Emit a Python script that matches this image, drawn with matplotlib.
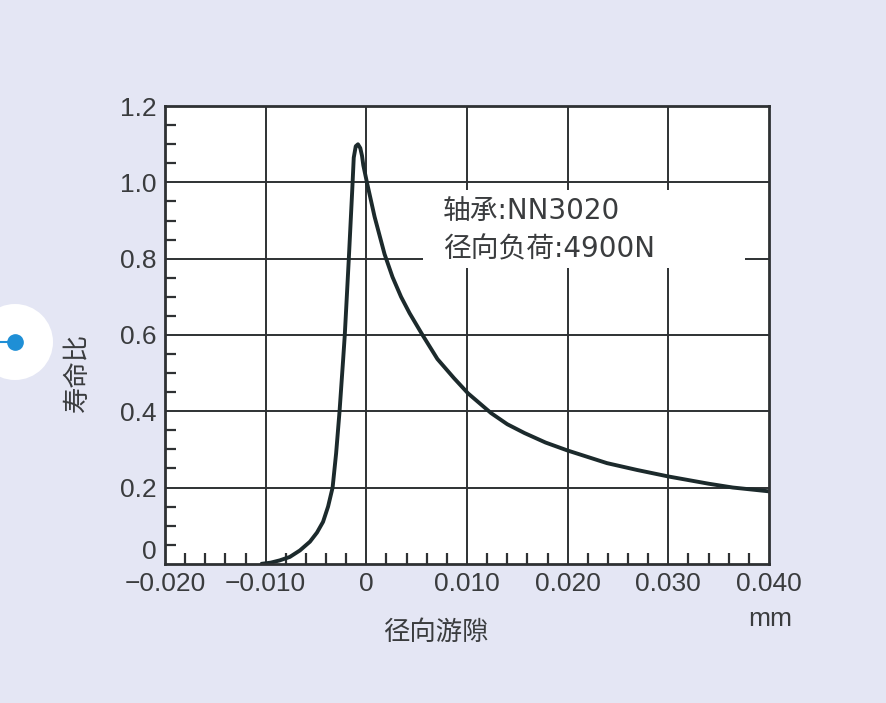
"""
plot.py — bearing life ratio vs radial clearance (NN3020, 4900 N radial load)
"""

import matplotlib
matplotlib.use('Agg')
import matplotlib.pyplot as plt
from matplotlib.patches import Rectangle, Ellipse
from matplotlib.ticker import MultipleLocator

# radial clearance (mm) and life ratio
clearance = [-0.0104, -0.0095, -0.0086, -0.0076, -0.0066, -0.0056, -0.0049,
             -0.0043, -0.0038, -0.00335, -0.0030, -0.00266, -0.0023,
             -0.00214, -0.00174, -0.00140, -0.00125, -0.00105, -0.00083,
             -0.00060, -0.00043, -0.00030, 0.00006, 0.00082, 0.00181,
             0.0026, 0.00345, 0.0043, 0.00558, 0.00706, 0.0087, 0.0101,
             0.0124, 0.0140, 0.0157, 0.0178, 0.0200, 0.0239, 0.0269,
             0.0300, 0.0340, 0.0364, 0.0400]
life_ratio = [0.0, 0.003, 0.009, 0.018, 0.035, 0.058, 0.082, 0.11, 0.15,
              0.20, 0.29, 0.40, 0.537, 0.60, 0.80, 0.98, 1.065, 1.095,
              1.10, 1.09, 1.07, 1.045, 1.00, 0.91, 0.812, 0.752, 0.70,
              0.657, 0.60, 0.537, 0.487, 0.447, 0.395, 0.366, 0.343, 0.318,
              0.297, 0.264, 0.246, 0.229, 0.210, 0.200, 0.190]

x_ticks = [-0.020, -0.010, 0.0, 0.010, 0.020, 0.030, 0.040]
x_labels = ['\u22120.020', '\u22120.010', '0', '0.010', '0.020', '0.030', '0.040']
y_ticks = [0.0, 0.2, 0.4, 0.6, 0.8, 1.0, 1.2]
y_labels = ['0', '0.2', '0.4', '0.6', '0.8', '1.0', '1.2']

note_lines = ['轴承:NN3020', '径向负荷:4900N']

BG = '#e4e6f4'
INK = '#2e3133'
TXT = '#3a3c3e'
CJK = ['Noto Sans CJK SC', 'DejaVu Sans']
NOTE_FONT = ['DejaVu Sans', 'Noto Sans CJK SC']

fig = plt.figure(figsize=(8.87, 7.03), dpi=100, facecolor=BG)
ax = fig.add_axes([0.186, 0.198, 0.681, 0.651])
ax.set_facecolor('white')

# grid on the major ticks, under the note box
for xv in x_ticks[1:-1]:
    ax.axvline(xv, color=INK, lw=1.4, zorder=0.5)
for yv in y_ticks[1:-1]:
    ax.axhline(yv, color=INK, lw=1.4, zorder=0.5)

# white panel behind the note (hides the grid)
ax.add_patch(Rectangle((0.427, 0.646), 0.533, 0.171, transform=ax.transAxes,
                       facecolor='white', edgecolor='none', zorder=1))

ax.plot(clearance, life_ratio, color='#1c2a2c', lw=2.8, zorder=3,
        solid_capstyle='round', solid_joinstyle='round')

ax.set_xlim(-0.020, 0.040)
ax.set_ylim(0, 1.2)
ax.set_xticks(x_ticks)
ax.set_xticklabels(x_labels, family='Liberation Sans', fontsize=19, color=TXT)
ax.set_yticks(y_ticks)
ax.set_yticklabels(y_labels, family='Liberation Sans', fontsize=19, color=TXT)
ax.get_yticklabels()[0].set_va('bottom')
ax.xaxis.set_minor_locator(MultipleLocator(0.002))
ax.yaxis.set_minor_locator(MultipleLocator(0.05))
ax.tick_params(which='major', length=0, pad=6)
ax.tick_params(which='minor', direction='in', length=8, width=1.6,
               color=INK, top=False, right=False)

for sp in ax.spines.values():
    sp.set_color(INK)
    sp.set_linewidth(2.0)
    sp.set_zorder(4)

ax.text(0.460, 0.770, note_lines[0], transform=ax.transAxes, family=NOTE_FONT,
        fontsize=20, color=TXT, va='center', ha='left', zorder=5)
ax.text(0.460, 0.688, note_lines[1], transform=ax.transAxes, family=NOTE_FONT,
        fontsize=20, color=TXT, va='center', ha='left', zorder=5)

fig.text(77 / 887, 1 - 372 / 703, '寿命比', rotation=90, family=CJK,
         fontsize=19, color=TXT, ha='center', va='center')
fig.text(436 / 887, 1 - 632 / 703, '径向游隙', family=CJK, fontsize=19,
         color=TXT, ha='center', va='center')
fig.text(770 / 887, 1 - 619 / 703, 'mm', family='Liberation Sans',
         fontsize=19, color=TXT, ha='center', va='center')

# page marker on the left edge
fig.patches.append(Ellipse((15 / 887, 1 - 342 / 703), 76 / 887, 76 / 703,
                           transform=fig.transFigure, facecolor='white',
                           edgecolor='none'))
fig.lines.append(plt.Line2D([0, 12 / 887], [1 - 342 / 703] * 2,
                            transform=fig.transFigure, color='#1f8fd6', lw=1.5))
fig.lines.append(plt.Line2D([15 / 887], [1 - 342 / 703], marker='o',
                            markersize=11, color='#1f8fd6',
                            transform=fig.transFigure))

fig.savefig('out.png', dpi=100, facecolor=BG)
